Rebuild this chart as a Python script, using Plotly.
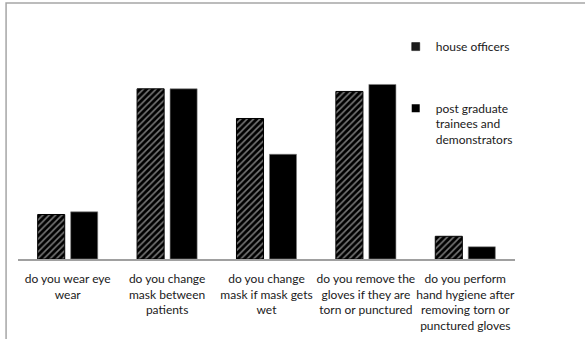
import plotly.graph_objects as go

# Survey items (x categories) and share of respondents answering "yes" (%)
questions = [
    "do you wear eye<br>wear",
    "do you change<br>mask between<br>patients",
    "do you change<br>mask if mask gets<br>wet",
    "do you remove the<br>gloves if they are<br>torn or punctured",
    "do you perform<br>hand hygiene after<br>removing torn or<br>punctured gloves",
]
house_officers = [25.5, 97.5, 80.5, 96, 13]
pg_trainees = [27, 97.5, 60, 100, 7]

series_names = ["house officers", "post graduate<br>trainees and<br>demonstrators"]

FONT = "Lato"
TXT = "#1a1a1a"

fig = go.Figure()

fig.add_trace(go.Bar(
    x=questions, y=house_officers, name=series_names[0], showlegend=False,
    marker=dict(
        color="black",
        line=dict(color="black", width=1),
        pattern=dict(shape="/", bgcolor="black", fgcolor="#f2f2f2",
                     size=4.5, solidity=0.35, fillmode="overlay"),
    ),
))
fig.add_trace(go.Bar(
    x=questions, y=pg_trainees, name=series_names[1], showlegend=False,
    marker=dict(color="black", line=dict(color="#7f7f7f", width=0.6)),
))

# Legend entries (small square keys)
fig.add_trace(go.Scatter(
    x=[None], y=[None], mode="markers", name=series_names[0], legend="legend",
    marker=dict(symbol="square", size=8, color="#1c1c1c",
                line=dict(color="black", width=0.5)),
))
fig.add_trace(go.Scatter(
    x=[None], y=[None], mode="markers", name=series_names[1], legend="legend2",
    marker=dict(symbol="square", size=8, color="black"),
))

# Chart frame
fig.add_shape(type="rect", xref="paper", yref="paper",
              x0=-0.024, x1=1.3, y0=-0.6, y1=1.118,
              line=dict(color="#a6a6a6", width=1.5), layer="below")

fig.update_layout(
    width=585, height=339,
    margin=dict(l=18, r=70, t=30, b=80, autoexpand=False),
    paper_bgcolor="white", plot_bgcolor="white",
    barmode="group", bargap=0.336, bargroupgap=0.18,
    font=dict(family=FONT, size=12, color=TXT),
    xaxis=dict(showline=True, linecolor="#a0a0a0", linewidth=1.5,
               ticks="", showgrid=False, tickangle=0, automargin=False,
               ticklabelstandoff=8,
               tickfont=dict(family=FONT, size=12, color=TXT)),
    yaxis=dict(range=[0, 131.2], visible=False, showgrid=False),
    legend=dict(x=0.76, y=0.99, xanchor="left", yanchor="top",
                bgcolor="rgba(0,0,0,0)", valign="top",
                font=dict(family=FONT, size=12, color=TXT)),
    legend2=dict(x=0.76, y=0.721, xanchor="left", yanchor="top",
                 bgcolor="rgba(0,0,0,0)", valign="top",
                 font=dict(family=FONT, size=12, color=TXT)),
)

fig.write_html("out.html")
